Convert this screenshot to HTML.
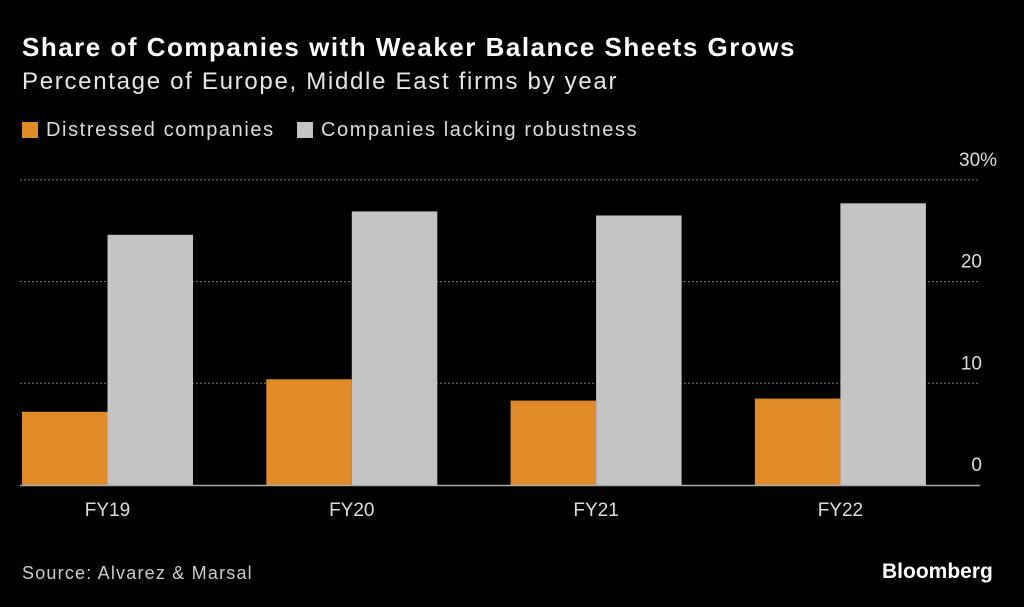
<!DOCTYPE html>
<html><head><meta charset="utf-8"><style>
body{margin:0;background:#000;width:1024px;height:607px;overflow:hidden;font-family:"Liberation Sans",sans-serif;color:#fff;position:relative}
.t{position:absolute;white-space:nowrap}
</style></head><body>
<div class="t" style="left:22px;top:32px;font-size:26px;font-weight:bold;letter-spacing:1.5px">Share of Companies with Weaker Balance Sheets Grows</div>
<div class="t" style="left:22px;top:68px;font-size:24px;color:#e6e6e6;letter-spacing:1.7px">Percentage of Europe, Middle East firms by year</div>
<div class="t" style="left:22px;top:119px;font-size:20px;color:#ddd;letter-spacing:1.6px"><span style="display:inline-block;width:16px;height:16px;background:#e08a2a;vertical-align:-2px;margin-right:8px"></span>Distressed companies</div>
<div class="t" style="left:297px;top:119px;font-size:20px;color:#ddd;letter-spacing:1.6px"><span style="display:inline-block;width:16px;height:16px;background:#c4c4c4;vertical-align:-2px;margin-right:8px"></span>Companies lacking robustness</div>
<svg id="c" width="1024" height="607" style="position:absolute;left:0;top:0"></svg>
<div class="t" style="left:22px;top:563px;font-size:18px;color:#ccc;letter-spacing:1.2px">Source: Alvarez &amp; Marsal</div>
<div class="t" style="left:882px;top:560px;font-size:21px;font-weight:bold;letter-spacing:0px">Bloomberg</div>
<script>
const categories=["FY19","FY20","FY21","FY22"];
const distressed=[7.2,10.4,8.3,8.5];
const lacking=[24.6,26.9,26.5,27.7];
const ticks=[0,10,20,30];
const svg=document.getElementById('c');const NS='http://www.w3.org/2000/svg';
const y=v=>485-v*10.17;
const x0=22,step=244.3,bw=85.5;
function mk(t,a){const e=document.createElementNS(NS,t);for(const k in a)e.setAttribute(k,a[k]);svg.appendChild(e);return e;}
ticks.forEach(t=>{
 if(t>0){const l=mk('line',{x1:20,x2:980,y1:y(t),y2:y(t),stroke:'#777','stroke-dasharray':'2,2','stroke-width':1});
 
 }
 const tx=mk('text',{x:982,y:y(t)-14,'text-anchor':'end','font-size':19,fill:'#ddd','font-family':'Liberation Sans, sans-serif'});
 tx.textContent=t+(t===30?'%':'');
 if(t===30){tx.setAttribute('text-anchor','start');tx.setAttribute('x',959);}
 
 
});
categories.forEach((c,i)=>{
 const gx=x0+i*step;
 const r1=mk('rect',{x:gx,y:y(distressed[i]),width:bw,height:y(0)-y(distressed[i]),fill:'#e08a2a'});
 
 
 const r2=mk('rect',{x:gx+bw,y:y(lacking[i]),width:bw,height:y(0)-y(lacking[i]),fill:'#c4c4c4'});
 
 
 const t=mk('text',{x:gx+bw,y:516,'text-anchor':'middle','font-size':19,fill:'#ddd','font-family':'Liberation Sans, sans-serif'});
 t.textContent=c;
 
 
});
const b=mk('line',{x1:20,x2:980,y1:485.5,y2:485.5,stroke:'#aaa','stroke-width':1.5});


</script>
</body></html>
